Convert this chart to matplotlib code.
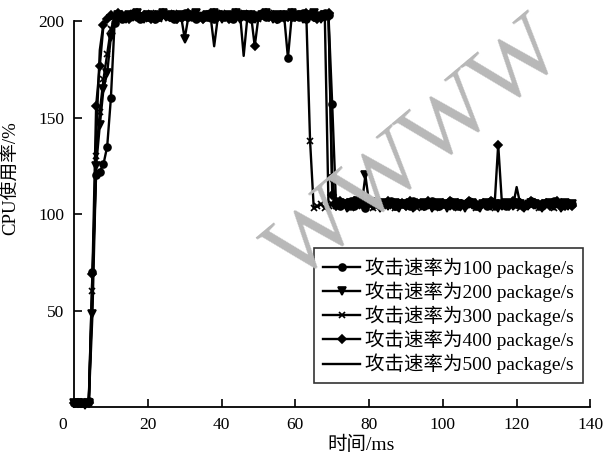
import numpy as np
import matplotlib
matplotlib.use("Agg")
import matplotlib.pyplot as plt
from matplotlib.transforms import ScaledTranslation

plt.rcParams['font.family'] = ['Liberation Serif', 'Noto Sans CJK SC', 'DejaVu Sans']
plt.rcParams['axes.unicode_minus'] = False

# CPU usage (%) sampled every 1 ms, x = 0..135
cpu_100 = [
    2, 2, 2, 2, 3, 70, 120, 122, 126, 135,
    160, 199, 202, 201, 203, 202, 204, 202, 201, 203,
    202, 203, 201, 202, 204, 203, 202, 201, 203, 202,
    204, 202, 203, 201, 202, 203, 202, 204, 201, 203,
    202, 203, 202, 201, 204, 202, 203, 202, 201, 203,
    202, 204, 202, 203, 202, 201, 203, 202, 181, 202,
    203, 202, 204, 201, 203, 202, 203, 202, 204, 203,
    157, 107, 104, 106, 105, 107, 104, 106, 105, 103,
    106, 107, 105, 104, 106, 105, 107, 104, 106, 105,
    106, 104, 107, 105, 106, 104, 105, 107, 106, 104,
    105, 106, 107, 105, 104, 106, 105, 107, 106, 104,
    105, 106, 104, 107, 105, 106, 105, 104, 106, 107,
    105, 106, 104, 105, 107, 106, 105, 104, 106, 105,
    107, 106, 104, 105, 106, 105,
]
cpu_200 = [
    2, 2, 2, 1, 2, 48, 125, 146, 165, 173,
    192, 201, 203, 202, 201, 203, 202, 204, 202, 201,
    203, 202, 201, 203, 204, 202, 203, 202, 201, 203,
    191, 202, 203, 204, 202, 201, 203, 202, 204, 203,
    201, 202, 203, 202, 204, 201, 203, 202, 203, 201,
    202, 203, 204, 202, 201, 203, 202, 203, 202, 204,
    202, 203, 201, 202, 203, 204, 202, 201, 203, 202,
    118, 104, 106, 105, 103, 106, 104, 107, 105, 120,
    106, 104, 105, 103, 106, 104, 105, 106, 103, 105,
    104, 106, 103, 105, 104, 106, 105, 103, 104, 106,
    105, 103, 104, 106, 105, 104, 103, 105, 106, 104,
    103, 105, 106, 104, 105, 103, 104, 106, 105, 104,
    106, 105, 103, 104, 106, 105, 104, 103, 105, 106,
    104, 105, 103, 106, 104, 105,
]
cpu_300 = [
    2, 2, 2, 2, 2, 60, 130, 153, 170, 183,
    196, 201, 202, 203, 201, 202, 204, 203, 202, 201,
    202, 204, 203, 201, 202, 203, 202, 204, 203, 202,
    201, 203, 202, 204, 202, 203, 201, 202, 203, 202,
    204, 203, 202, 201, 203, 202, 204, 202, 203, 202,
    201, 203, 202, 204, 203, 202, 201, 203, 202, 204,
    203, 202, 203, 202, 138, 103, 104, 105, 103, 104,
    105, 104, 106, 104, 105, 103, 106, 105, 104, 106,
    105, 103, 104, 106, 105, 104, 106, 103, 105, 104,
    106, 105, 104, 103, 105, 106, 104, 105, 103, 106,
    104, 105, 106, 104, 103, 105, 104, 106, 105, 103,
    105, 104, 106, 105, 103, 104, 106, 104, 105, 106,
    104, 103, 105, 106, 104, 105, 103, 104, 106, 105,
    103, 105, 104, 106, 104, 105,
]
cpu_400 = [
    2, 2, 2, 2, 2, 69, 156, 177, 198, 201,
    203, 202, 204, 203, 202, 201, 203, 204, 202, 203,
    202, 201, 203, 202, 204, 203, 202, 203, 201, 202,
    203, 204, 202, 203, 202, 201, 203, 202, 204, 202,
    203, 202, 201, 203, 204, 202, 203, 202, 203, 187,
    202, 203, 204, 202, 203, 201, 202, 203, 202, 204,
    202, 203, 202, 204, 203, 202, 201, 203, 202, 204,
    110, 104, 107, 105, 106, 104, 107, 105, 106, 104,
    107, 105, 106, 104, 105, 107, 106, 104, 105, 106,
    104, 107, 105, 106, 105, 104, 107, 106, 105, 104,
    106, 105, 107, 104, 106, 105, 104, 107, 106, 105,
    104, 106, 105, 107, 104, 136, 106, 105, 104, 107,
    105, 106, 104, 105, 107, 106, 104, 105, 106, 104,
    105, 107, 106, 104, 105, 104,
]
cpu_500 = [
    2, 2, 2, 2, 2, 60, 140, 185, 199, 202,
    201, 203, 202, 204, 202, 203, 201, 202, 203, 202,
    204, 202, 203, 201, 202, 203, 202, 204, 203, 201,
    202, 203, 202, 204, 201, 203, 202, 203, 187, 202,
    203, 201, 202, 203, 202, 204, 182, 202, 203, 201,
    202, 203, 204, 202, 201, 203, 202, 203, 202, 204,
    203, 201, 202, 203, 204, 202, 203, 202, 202, 104,
    106, 105, 104, 106, 103, 105, 107, 104, 106, 105,
    104, 106, 105, 103, 105, 106, 104, 105, 106, 104,
    105, 103, 106, 104, 105, 106, 103, 105, 104, 106,
    105, 104, 106, 103, 105, 104, 106, 105, 103, 104,
    106, 105, 104, 106, 105, 103, 104, 105, 106, 104,
    114, 105, 104, 106, 105, 103, 106, 104, 105, 106,
    104, 105, 103, 104, 106, 104,
]

series = [cpu_100, cpu_200, cpu_300, cpu_400, cpu_500]
labels = ["攻击速率为100 package/s", "攻击速率为200 package/s",
          "攻击速率为300 package/s", "攻击速率为400 package/s",
          "攻击速率为500 package/s"]
markers = ['o', 'v', 'x', 'D', None]
msizes = [5, 6, 5, 4.5, 0]

xticks = [0, 20, 40, 60, 80, 100, 120, 140]
yticks = [50, 100, 150, 200]

fig = plt.figure(figsize=(6.04, 4.55), dpi=100)
ax = fig.add_axes([0.1225, 0.1055, 0.855, 0.848])

# watermark
fig.text(0.69, 0.665, "WWWW", fontsize=68, color='#b8b8b8', rotation=40,
         ha='center', va='center', family='Liberation Serif', zorder=0)

for vals, lab, mk, ms in zip(series, labels, markers, msizes):
    x = np.arange(len(vals))
    ax.plot(x, vals, color='black', lw=1.7, marker=mk, markersize=ms,
            markeredgewidth=1.2, label=lab, clip_on=False, zorder=3)

ax.set_xlim(0, 140)
ax.set_ylim(0, 200)
ax.set_xticks(xticks)
ax.set_yticks(yticks)
ax.tick_params(direction='in', length=6, width=1.2, labelsize=12.5, pad=7)
for s in ['top', 'right']:
    ax.spines[s].set_visible(False)
for s in ['left', 'bottom']:
    ax.spines[s].set_linewidth(1.3)
ax.patch.set_alpha(0)

lab0 = ax.get_xticklabels()[0]
lab0.set_transform(lab0.get_transform() + ScaledTranslation(-8/72, 0, fig.dpi_scale_trans))
ax.xaxis.get_major_ticks()[0].tick1line.set_visible(False)

ax.set_xlabel("时间/ms", fontsize=14)
ax.xaxis.set_label_coords(0.556, -0.075)
ax.set_ylabel("CPU使用率/%", fontsize=13.5)
ax.yaxis.set_label_coords(-0.105, 0.593)

leg = ax.legend(loc='lower right', bbox_to_anchor=(0.985, 0.062), borderaxespad=0,
                prop={'size': 14}, frameon=True, fancybox=False, edgecolor='black',
                handlelength=1.9, handletextpad=0.25, labelspacing=0.18,
                borderpad=0.45, markerscale=1.0)
leg.get_frame().set_linewidth(1.2)
leg.set_zorder(5)

fig.savefig("out.png", dpi=100)
